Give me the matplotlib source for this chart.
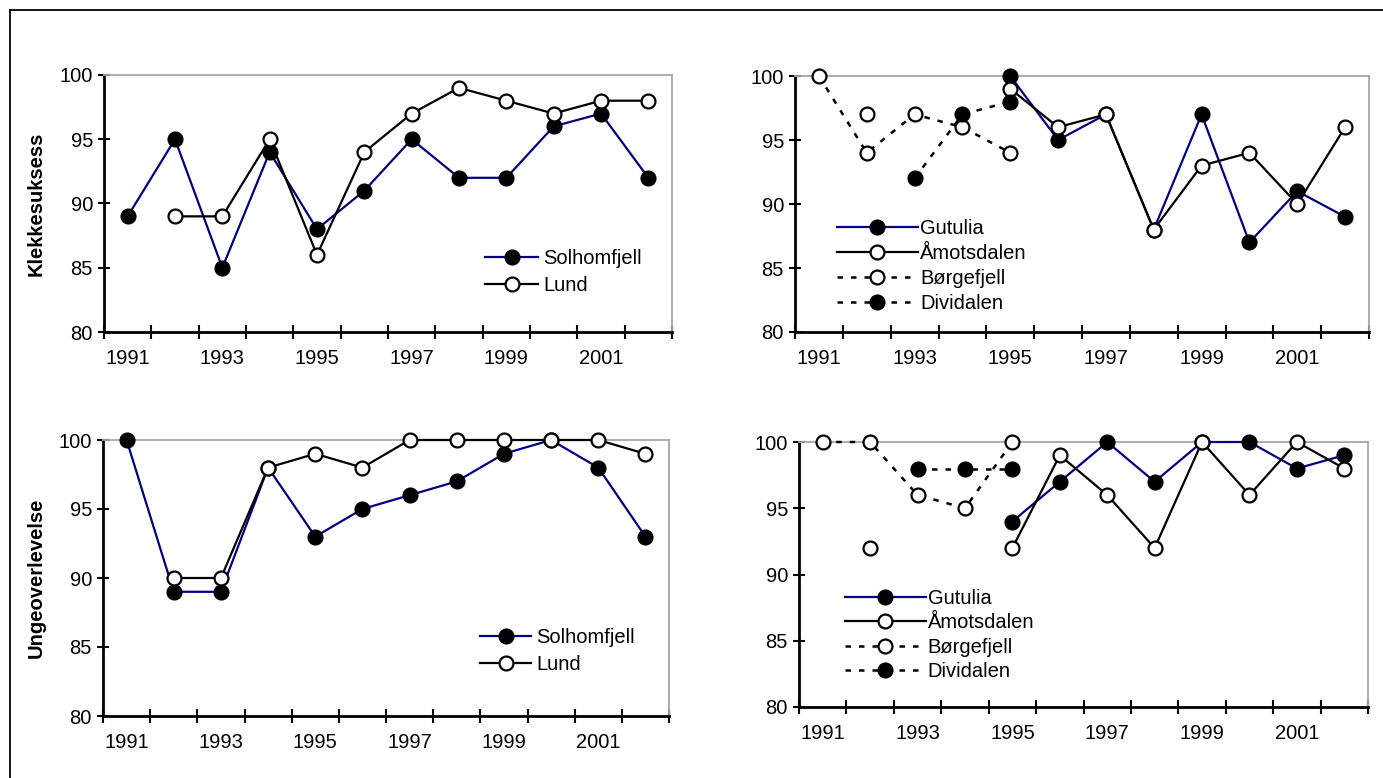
import matplotlib.pyplot as plt
from matplotlib.lines import Line2D
import numpy as np

plt.rcParams['font.family'] = ['Liberation Sans', 'DejaVu Sans']

years = list(range(1991, 2003))
year_labels = ['1991', '1993', '1995', '1997', '1999', '2001']
nan = np.nan

# Klekkesuksess (top) and Ungeoverlevelse (bottom), south sites
solhomfjell_klekk = [89, 95, 85, 94, 88, 91, 95, 92, 92, 96, 97, 92]
lund_klekk = [nan, 89, 89, 95, 86, 94, 97, 99, 98, 97, 98, 98]
solhomfjell_unge = [100, 89, 89, 98, 93, 95, 96, 97, 99, 100, 98, 93]
lund_unge = [nan, 90, 90, 98, 99, 98, 100, 100, 100, 100, 100, 99]

# north sites
gutulia_klekk = [nan, nan, nan, nan, 100, 95, 97, 88, 97, 87, 91, 89]
amotsdalen_klekk = [nan, 97, nan, nan, 99, 96, 97, 88, 93, 94, 90, 96]
borgefjell_klekk = [100, 94, 97, 96, 94, nan, nan, nan, nan, nan, nan, nan]
dividalen_klekk = [nan, nan, 92, 97, 98, nan, nan, nan, nan, nan, nan, nan]

gutulia_unge = [nan, nan, nan, nan, 94, 97, 100, 97, 100, 100, 98, 99]
amotsdalen_unge = [nan, 92, nan, nan, 92, 99, 96, 92, 100, 96, 100, 98]
borgefjell_unge = [100, 100, 96, 95, 100, nan, nan, nan, nan, nan, nan, nan]
dividalen_unge = [nan, nan, 98, 98, 98, nan, nan, nan, nan, nan, nan, nan]

NAVY = '#000080'
DOTS = (0, (2.2, 3.2))
MS = 10
FS = 14.5
W, H = 1383, 778


def style_axes(ax):
    x = np.arange(1, len(years) + 1)
    ax.set_xlim(0.5, len(years) + 0.5)
    ax.set_ylim(80, 100)
    ax.set_yticks([80, 85, 90, 95, 100])
    ax.set_xticks(x[::2])
    ax.set_xticklabels(year_labels)
    ax.set_xticks(np.arange(0.5, len(years) + 1, 1), minor=True)
    ax.tick_params(axis='x', which='major', length=0, pad=12.5, labelsize=FS)
    ax.tick_params(axis='x', which='minor', direction='inout', length=10, width=1.5)
    ax.tick_params(axis='y', which='major', direction='inout', length=9, width=1.5,
                   pad=3.5, labelsize=FS)
    for s in ['left', 'bottom']:
        ax.spines[s].set_linewidth(2)
        ax.spines[s].set_color('black')
    for s in ['top', 'right']:
        ax.spines[s].set_linewidth(1.3)
        ax.spines[s].set_color('#a6a6a6')
    return x


def plot_series(ax, x, vals, color, filled, ls, label):
    ax.plot(x, vals, color=color, linestyle=ls, lw=1.6 if ls == '-' else 1.8,
            marker='o', markersize=MS, markerfacecolor='black' if filled else 'white',
            markeredgecolor='black', markeredgewidth=1.6, label=label,
            clip_on=False, zorder=3)


def add_legend(ax, box, x0, y0, hl, pad, spacing):
    # box = (left, top, width, height) of the axes in pixels
    left, top, width, height = box
    ax.legend(loc='upper left', bbox_to_anchor=((x0 - left) / width, (top + height - y0) / height),
              frameon=False, fontsize=FS, handlelength=hl, handletextpad=pad,
              labelspacing=spacing, borderaxespad=0, borderpad=0)


def make_axes(box):
    left, top, width, height = box
    return fig.add_axes([left / W, 1 - (top + height) / H, width / W, height / H])


fig = plt.figure(figsize=(W / 100, H / 100), dpi=100)

# outer frame lines (top and left)
fig.add_artist(Line2D([10 / W, 1], [1 - 10 / H, 1 - 10 / H], color='black', lw=1.3))
fig.add_artist(Line2D([10 / W, 10 / W], [0, 1 - 10 / H], color='black', lw=1.3))

box_tl = (104, 75, 568, 257)
box_bl = (103, 440, 566, 276)
box_tr = (795, 76, 574, 256)
box_br = (799, 442, 569, 265)

ax_tl = make_axes(box_tl)
ax_bl = make_axes(box_bl)
ax_tr = make_axes(box_tr)
ax_br = make_axes(box_br)

# top left
x = style_axes(ax_tl)
plot_series(ax_tl, x, solhomfjell_klekk, NAVY, True, '-', 'Solhomfjell')
plot_series(ax_tl, x, lund_klekk, 'black', False, '-', 'Lund')
add_legend(ax_tl, box_tl, 485, 249, 2.65, 0.23, 0.41)
ax_tl.set_ylabel('Klekkesuksess', fontsize=FS, fontweight='bold')
ax_tl.yaxis.set_label_coords(-0.102, 0.5)

# bottom left
x = style_axes(ax_bl)
plot_series(ax_bl, x, solhomfjell_unge, NAVY, True, '-', 'Solhomfjell')
plot_series(ax_bl, x, lund_unge, 'black', False, '-', 'Lund')
add_legend(ax_bl, box_bl, 480, 628, 2.55, 0.23, 0.41)
ax_bl.set_ylabel('Ungeoverlevelse', fontsize=FS, fontweight='bold')
ax_bl.yaxis.set_label_coords(-0.102, 0.5)

# top right
x = style_axes(ax_tr)
plot_series(ax_tr, x, gutulia_klekk, NAVY, True, '-', 'Gutulia')
plot_series(ax_tr, x, amotsdalen_klekk, 'black', False, '-', 'Åmotsdalen')
plot_series(ax_tr, x, borgefjell_klekk, 'black', False, DOTS, 'Børgefjell')
plot_series(ax_tr, x, dividalen_klekk, 'black', True, DOTS, 'Dividalen')
add_legend(ax_tr, box_tr, 837, 219, 4.0, 0.12, 0.3)

# bottom right
x = style_axes(ax_br)
plot_series(ax_br, x, gutulia_unge, NAVY, True, '-', 'Gutulia')
plot_series(ax_br, x, amotsdalen_unge, 'black', False, '-', 'Åmotsdalen')
plot_series(ax_br, x, borgefjell_unge, 'black', False, DOTS, 'Børgefjell')
plot_series(ax_br, x, dividalen_unge, 'black', True, DOTS, 'Dividalen')
add_legend(ax_br, box_br, 845, 589, 4.0, 0.1, 0.27)

fig.savefig('out.png', dpi=100)
